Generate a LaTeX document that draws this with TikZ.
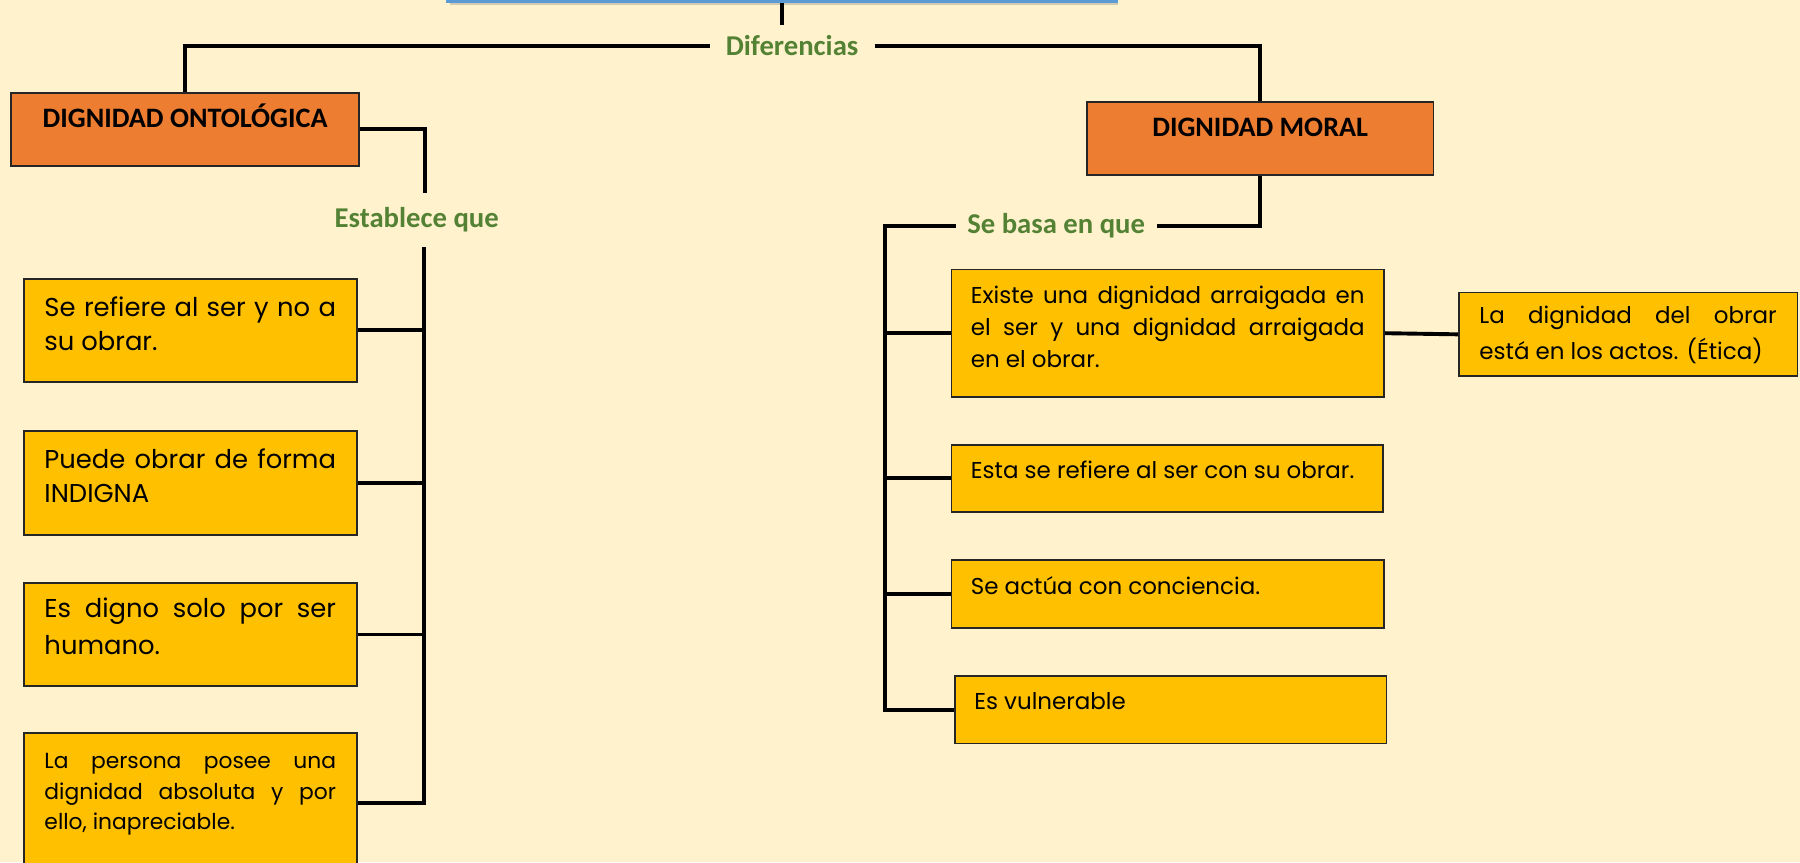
\documentclass[tikz,border=0pt]{standalone}
\usepackage{fontspec}
\usetikzlibrary{shadows}
\newfontfamily\popl{Poppins}
\newfontfamily\carl{Carlito}
\definecolor{cream}{HTML}{FFF2CC}
\definecolor{gold}{HTML}{FFC000}
\definecolor{orangeT}{HTML}{ED7D31}
\definecolor{greenT}{HTML}{548235}
\definecolor{blueT}{HTML}{5B9BD5}
\definecolor{edge}{HTML}{262626}
\newcommand\btxt[4]{\parbox[c][#1][t]{#2}{\tolerance=10000\hyphenpenalty=10000\rule{0pt}{#3}#4}}
\tikzset{
  conn/.style={line width=3.4pt, black},
  ybox/.style={draw=edge, line width=1.5pt, fill=gold, anchor=north west, inner ysep=0pt, text=black},
  obox/.style={draw=edge, line width=1.5pt, fill=orangeT, anchor=north west, inner sep=0pt, text=black,
    font=\carl\bfseries\fontsize{24.5}{28}\selectfont},
  lbl/.style={text=greenT, inner xsep=14pt, inner ysep=2pt, font=\carl\bfseries\fontsize{25}{29}\selectfont},
  titlebox/.style={draw=blueT, line width=3.5pt, fill=blueT!20, anchor=south, minimum width=582pt, minimum height=40pt,
    drop shadow={shadow xshift=2pt, shadow yshift=-3pt, opacity=0.35}}
}
\begin{document}
\begin{tikzpicture}[x=1pt, y=-1pt]
\fill[cream] (0,0) rectangle (1568,751);
\useasboundingbox (0,0) rectangle (1568,751);

\node[titlebox] (title) at (681,3) {};

% labels
\node[lbl] (dif) at (690,40) {Diferencias};
\node[lbl] (est) at (363,191) {Establece que};
\node[lbl, inner xsep=10pt] (sbq) at (920,197) {Se basa en que};

% orange boxes
\node[obox] (onto) at (9,80) {\parbox[c][64pt][t]{303pt}{\centering\rule{0pt}{30pt}DIGNIDAD ONTOLÓGICA}};
\node[obox] (moral) at (946,88) {\parbox[c][64pt][t]{302pt}{\centering\rule{0pt}{30pt}DIGNIDAD MORAL}};

% left boxes
\node[ybox, inner xsep=18pt, font=\popl\fontsize{22.5}{30}\selectfont] (b1) at (20,242)
  {\btxt{90pt}{254pt}{33pt}{Se refiere al ser y no a\linebreak su obrar.}};
\node[ybox, inner xsep=18pt, font=\popl\fontsize{22.5}{30}\selectfont] (b2) at (20,375)
  {\btxt{90pt}{254pt}{32pt}{Puede obrar de forma\linebreak INDIGNA}};
\node[ybox, inner xsep=18pt, font=\popl\fontsize{22.5}{32}\selectfont] (b3) at (20,507)
  {\btxt{90pt}{254pt}{30pt}{Es digno solo por ser\linebreak humano.}};
\node[ybox, inner xsep=18pt, font=\popl\fontsize{19}{26.5}\selectfont] (b4) at (20,638)
  {\btxt{122pt}{254pt}{31pt}{La persona posee una\linebreak dignidad absoluta y por\linebreak ello, inapreciable.}};

% right boxes
\node[ybox, inner xsep=17pt, font=\popl\fontsize{20}{27.5}\selectfont] (bA) at (828,234)
  {\btxt{111pt}{343pt}{30pt}{Existe una dignidad arraigada en\linebreak el ser y una dignidad arraigada\linebreak en el obrar.}};
\node[ybox, inner xsep=17pt, font=\popl\fontsize{20}{27.5}\selectfont] (bB) at (828,387)
  {\btxt{58pt}{342pt}{29pt}{Esta se refiere al ser con su obrar.}};
\node[ybox, inner xsep=17pt, font=\popl\fontsize{20}{27.5}\selectfont] (bC) at (828,487)
  {\btxt{59pt}{343pt}{30pt}{Se actúa con conciencia.}};
\node[ybox, inner xsep=17pt, font=\popl\fontsize{20}{27.5}\selectfont] (bD) at (831,588)
  {\btxt{59pt}{342pt}{29pt}{Es vulnerable}};
\node[ybox, inner xsep=18pt, font=\popl\fontsize{20}{31}\selectfont] (bE) at (1270,254)
  {\btxt{73pt}{259pt}{27pt}{La dignidad del obrar\linebreak está en los actos. (Ética)}};

% connectors
\coordinate (tB) at (681,22);
\coordinate (estTop) at (370,168);
\coordinate (lsp) at (369,215);
\coordinate (rsp) at (771,300);

\draw[conn] (title.south) -- (tB);
\draw[conn] (dif.west) -| (onto.north);
\draw[conn] (dif.east) -| (moral.north);
\draw[conn] (onto.east) -| (estTop);
\draw[conn] (lsp) |- (b4.east);
\draw[conn] (b1.east) -- (b1.east -| lsp);
\draw[conn] (b2.east) -- (b2.east -| lsp);
\draw[conn] (b3.east) -- (b3.east -| lsp);

\draw[conn] (moral.south) |- (sbq.east);
\draw[conn] (sbq.west) -| (rsp) |- (bD.west);
\draw[conn] (bA.west) -- (bA.west -| rsp);
\draw[conn] (bB.west) -- (bB.west -| rsp);
\draw[conn] (bC.west) -- (bC.west -| rsp);
\draw[conn] (bA.east) -- (bE.west);
\end{tikzpicture}
\end{document}
